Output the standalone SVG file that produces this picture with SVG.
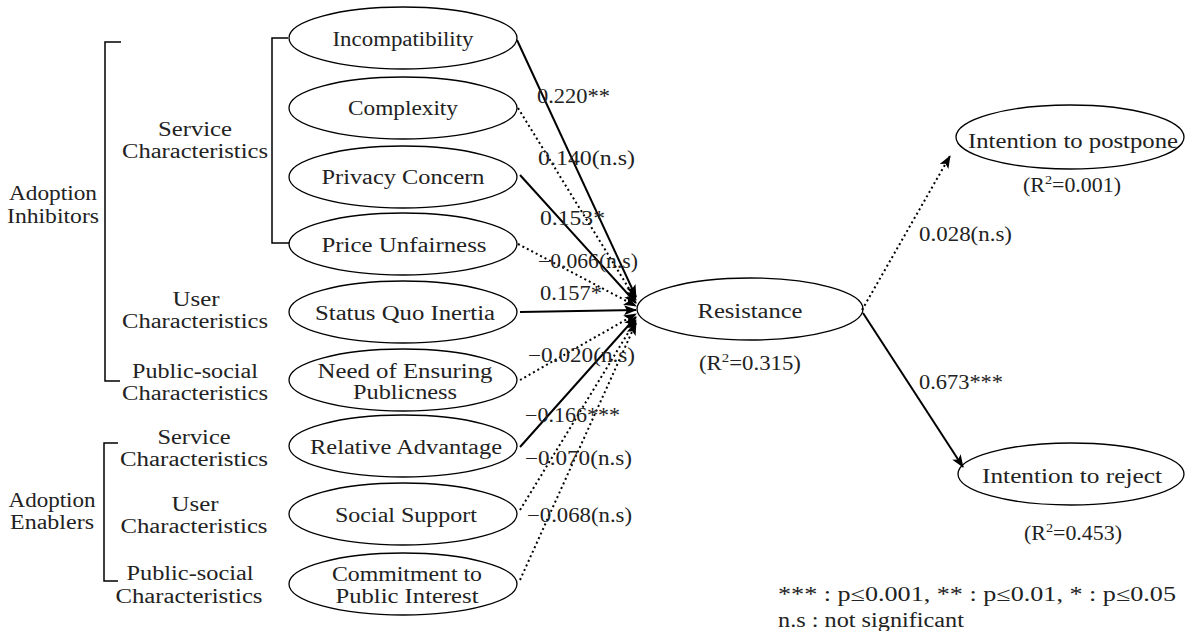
<svg xmlns="http://www.w3.org/2000/svg" width="1198" height="631" viewBox="0 0 1198 631">
<style>
text{font-family:"Liberation Serif","Times New Roman",serif;font-size:20px;fill:#222;}
.m{text-anchor:middle;}
.e{fill:#fff;stroke:#000;stroke-width:1.3;}
.br{fill:none;stroke:#000;stroke-width:1.5;}
.s{fill:none;stroke:#000;stroke-width:2;}
.d{fill:none;stroke:#000;stroke-width:2;stroke-dasharray:2 3;}
</style>
<defs>
<marker id="ah" markerUnits="userSpaceOnUse" markerWidth="14" markerHeight="12" refX="12" refY="5" orient="auto">
<path d="M0,0 L13,5 L0,10 L3,5 Z" fill="#000"/>
</marker>
</defs>
<rect width="1198" height="631" fill="#fff"/>

<g id="group-labels">
<path class="br" d="M121,42 H105 V381 H120"/>
<path class="br" d="M288,38 H272 V243 H290"/>
<path class="br" d="M118,443 H104 V581 H118"/>
<text class="m" x="53" y="200" textLength="88" lengthAdjust="spacingAndGlyphs">Adoption</text>
<text class="m" x="53" y="223" textLength="92" lengthAdjust="spacingAndGlyphs">Inhibitors</text>
<text class="m" x="195" y="136" textLength="74" lengthAdjust="spacingAndGlyphs">Service</text>
<text class="m" x="195" y="158" textLength="146" lengthAdjust="spacingAndGlyphs">Characteristics</text>
<text class="m" x="196" y="306" textLength="47" lengthAdjust="spacingAndGlyphs">User</text>
<text class="m" x="195" y="328" textLength="146" lengthAdjust="spacingAndGlyphs">Characteristics</text>
<text class="m" x="195" y="378" textLength="126" lengthAdjust="spacingAndGlyphs">Public-social</text>
<text class="m" x="195" y="400" textLength="146" lengthAdjust="spacingAndGlyphs">Characteristics</text>
<text class="m" x="52" y="507" textLength="87" lengthAdjust="spacingAndGlyphs">Adoption</text>
<text class="m" x="52" y="529" textLength="84" lengthAdjust="spacingAndGlyphs">Enablers</text>
<text class="m" x="194" y="444" textLength="73" lengthAdjust="spacingAndGlyphs">Service</text>
<text class="m" x="194" y="466" textLength="148" lengthAdjust="spacingAndGlyphs">Characteristics</text>
<text class="m" x="195" y="511" textLength="47" lengthAdjust="spacingAndGlyphs">User</text>
<text class="m" x="194" y="533" textLength="147" lengthAdjust="spacingAndGlyphs">Characteristics</text>
<text class="m" x="190" y="580" textLength="127" lengthAdjust="spacingAndGlyphs">Public-social</text>
<text class="m" x="189" y="603" textLength="147" lengthAdjust="spacingAndGlyphs">Characteristics</text>
</g>

<g id="n-incompatibility"><ellipse class="e" cx="403" cy="38" rx="114" ry="31"/><text class="m" x="403" y="46" textLength="141" lengthAdjust="spacingAndGlyphs">Incompatibility</text></g>
<g id="n-complexity"><ellipse class="e" cx="403" cy="108" rx="114" ry="31"/><text class="m" x="403" y="115" textLength="110" lengthAdjust="spacingAndGlyphs">Complexity</text></g>
<g id="n-privacy"><ellipse class="e" cx="403" cy="177" rx="114" ry="31"/><text class="m" x="403" y="184" textLength="163" lengthAdjust="spacingAndGlyphs">Privacy Concern</text></g>
<g id="n-price"><ellipse class="e" cx="403" cy="244" rx="114" ry="31"/><text class="m" x="404" y="252" textLength="165" lengthAdjust="spacingAndGlyphs">Price Unfairness</text></g>
<g id="n-statusquo"><ellipse class="e" cx="403" cy="312" rx="114" ry="31"/><text class="m" x="405" y="320" textLength="180" lengthAdjust="spacingAndGlyphs">Status Quo Inertia</text></g>
<g id="n-publicness"><ellipse class="e" cx="403" cy="380" rx="114" ry="31"/><text class="m" x="405" y="378" textLength="175" lengthAdjust="spacingAndGlyphs">Need of Ensuring</text><text class="m" x="405" y="399" textLength="104" lengthAdjust="spacingAndGlyphs">Publicness</text></g>
<g id="n-relative"><ellipse class="e" cx="403" cy="446" rx="114" ry="31"/><text class="m" x="406" y="454" textLength="192" lengthAdjust="spacingAndGlyphs">Relative Advantage</text></g>
<g id="n-social"><ellipse class="e" cx="403" cy="514" rx="114" ry="31"/><text class="m" x="406" y="522" textLength="142" lengthAdjust="spacingAndGlyphs">Social Support</text></g>
<g id="n-commitment"><ellipse class="e" cx="403" cy="584" rx="114" ry="31"/><text class="m" x="407" y="581" textLength="150" lengthAdjust="spacingAndGlyphs">Commitment to</text><text class="m" x="407" y="603" textLength="143" lengthAdjust="spacingAndGlyphs">Public Interest</text></g>

<g id="n-resistance"><ellipse class="e" cx="750" cy="309" rx="113" ry="31"/><text class="m" x="750" y="318" textLength="105" lengthAdjust="spacingAndGlyphs">Resistance</text><text class="m" x="750" y="370" textLength="102" lengthAdjust="spacingAndGlyphs">(R<tspan font-size="13" dy="-8">2</tspan><tspan dy="8">=0.315)</tspan></text></g>
<g id="n-postpone"><ellipse class="e" cx="1070" cy="137" rx="114" ry="32"/><text class="m" x="1073" y="148" textLength="210" lengthAdjust="spacingAndGlyphs">Intention to postpone</text><text class="m" x="1072" y="192" textLength="98" lengthAdjust="spacingAndGlyphs">(R<tspan font-size="13" dy="-8">2</tspan><tspan dy="8">=0.001)</tspan></text></g>
<g id="n-reject"><ellipse class="e" cx="1071" cy="474" rx="113" ry="31"/><text class="m" x="1072" y="483" textLength="180" lengthAdjust="spacingAndGlyphs">Intention to reject</text><text class="m" x="1073" y="540" textLength="98" lengthAdjust="spacingAndGlyphs">(R<tspan font-size="13" dy="-8">2</tspan><tspan dy="8">=0.453)</tspan></text></g>

<g id="connectors">
<line class="s" x1="517" y1="40" x2="636" y2="297" marker-end="url(#ah)"/>
<line class="d" x1="518" y1="108" x2="636" y2="300" marker-end="url(#ah)"/>
<line class="s" x1="520" y1="175" x2="636" y2="303" marker-end="url(#ah)"/>
<line class="d" x1="518" y1="244" x2="636" y2="306" marker-end="url(#ah)"/>
<line class="s" x1="520" y1="312" x2="636" y2="310" marker-end="url(#ah)"/>
<line class="d" x1="520" y1="380" x2="636" y2="314" marker-end="url(#ah)"/>
<line class="s" x1="520" y1="447" x2="636" y2="317" marker-end="url(#ah)"/>
<line class="d" x1="520" y1="510" x2="636" y2="320" marker-end="url(#ah)"/>
<line class="d" x1="520" y1="580" x2="636" y2="323" marker-end="url(#ah)"/>
<line class="d" x1="862" y1="310" x2="950" y2="156" marker-end="url(#ah)"/>
<line class="s" x1="863" y1="313" x2="963" y2="467" marker-end="url(#ah)"/>
</g>

<g id="edge-labels">
<text x="537" y="103" textLength="73" lengthAdjust="spacingAndGlyphs">0.220**</text>
<text x="538" y="165" textLength="97" lengthAdjust="spacingAndGlyphs">0.140(n.s)</text>
<text x="540" y="225" textLength="65" lengthAdjust="spacingAndGlyphs">0.153*</text>
<text x="538" y="268" textLength="100" lengthAdjust="spacingAndGlyphs">−0.066(n.s)</text>
<text x="540" y="300" textLength="62" lengthAdjust="spacingAndGlyphs">0.157*</text>
<text x="528" y="362" textLength="107" lengthAdjust="spacingAndGlyphs">−0.020(n.s)</text>
<text x="525" y="422" textLength="95" lengthAdjust="spacingAndGlyphs">−0.166***</text>
<text x="525" y="465" textLength="107" lengthAdjust="spacingAndGlyphs">−0.070(n.s)</text>
<text x="527" y="522" textLength="105" lengthAdjust="spacingAndGlyphs">−0.068(n.s)</text>
<text x="919" y="241" textLength="93" lengthAdjust="spacingAndGlyphs">0.028(n.s)</text>
<text x="919" y="389" textLength="84" lengthAdjust="spacingAndGlyphs">0.673***</text>
</g>

<g id="legend">
<text x="778" y="601" textLength="398" lengthAdjust="spacingAndGlyphs">*** : p≤0.001, ** : p≤0.01, * : p≤0.05</text>
<text x="778" y="627" textLength="186" lengthAdjust="spacingAndGlyphs">n.s : not significant</text>
</g>
</svg>
